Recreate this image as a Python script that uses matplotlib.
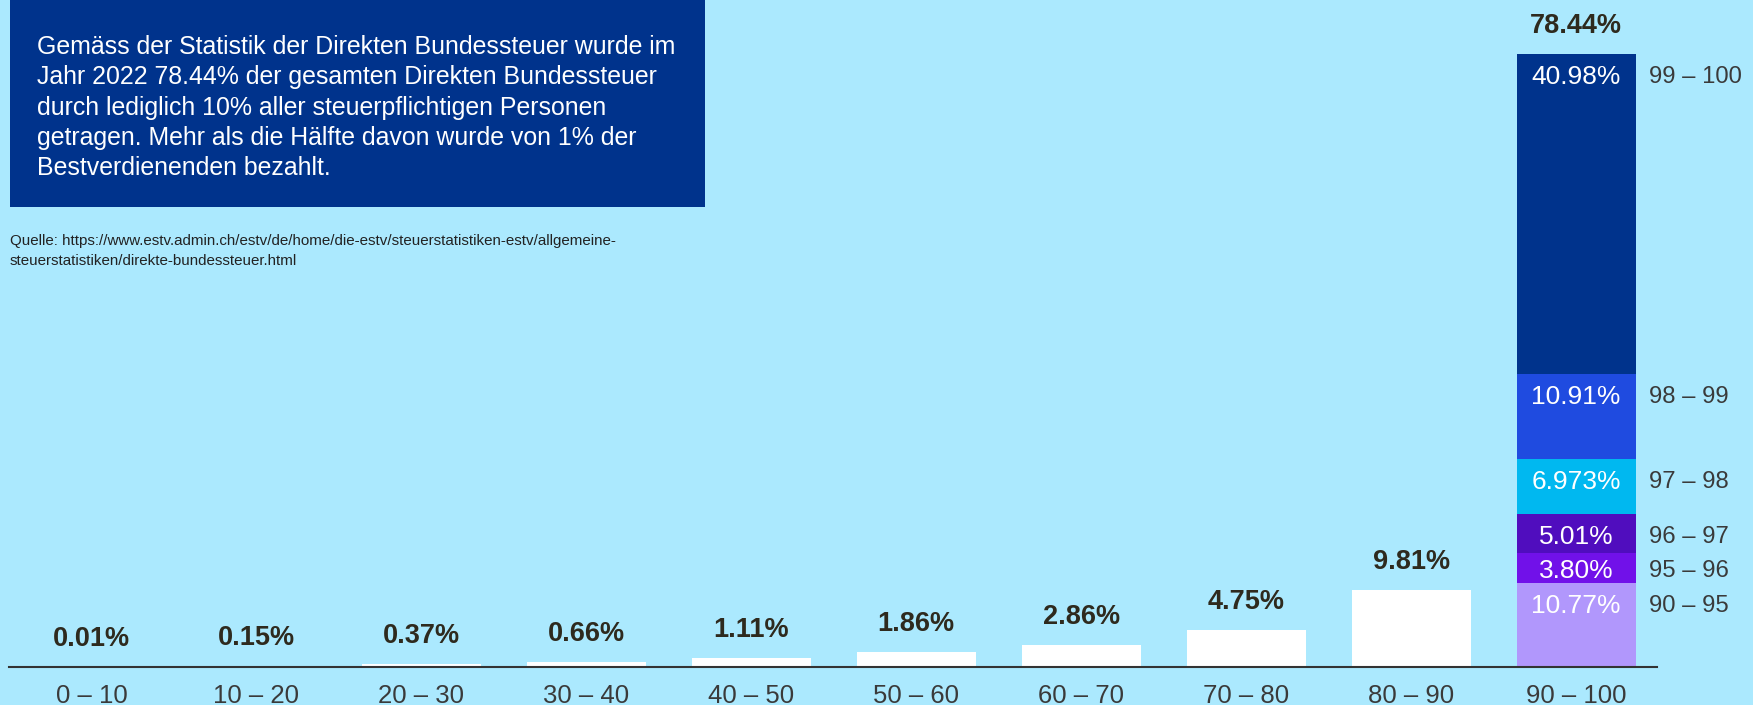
import matplotlib
matplotlib.use("Agg")
import matplotlib.pyplot as plt
from matplotlib.patches import Rectangle

# ---- data ----
categories = ["0 – 10", "10 – 20", "20 – 30", "30 – 40", "40 – 50",
              "50 – 60", "60 – 70", "70 – 80", "80 – 90", "90 – 100"]
shares = [0.01, 0.15, 0.37, 0.66, 1.11, 1.86, 2.86, 4.75, 9.81, 78.44]
share_labels = ["0.01%", "0.15%", "0.37%", "0.66%", "1.11%",
                "1.86%", "2.86%", "4.75%", "9.81%", "78.44%"]

top_groups = ["90 – 95", "95 – 96", "96 – 97", "97 – 98", "98 – 99", "99 – 100"]
top_values = [10.77, 3.80, 5.01, 6.973, 10.91, 40.98]
top_value_labels = ["10.77%", "3.80%", "5.01%", "6.973%", "10.91%", "40.98%"]
top_colors = ["#B197FC", "#7111E9", "#500DBE", "#00B8F0", "#1F4BE0", "#00338C"]

box_text = ("Gemäss der Statistik der Direkten Bundessteuer wurde im\n"
            "Jahr 2022 78.44% der gesamten Direkten Bundessteuer\n"
            "durch lediglich 10% aller steuerpflichtigen Personen\n"
            "getragen. Mehr als die Hälfte davon wurde von 1% der\n"
            "Bestverdienenden bezahlt.")
source_lines = ["Quelle: https://www.estv.admin.ch/estv/de/home/die-estv/steuerstatistiken-estv/allgemeine-",
                "steuerstatistiken/direkte-bundessteuer.html"]

BG = "#ABE9FE"
DARK = "#2E2A1E"
W, H = 1753, 705
DPI = 100
PT = 72 / DPI  # points per pixel

plt.rcParams['font.family'] = ['Liberation Sans', 'DejaVu Sans']

fig = plt.figure(figsize=(W / DPI, H / DPI), dpi=DPI, facecolor=BG)
ax = fig.add_axes([9 / W, (H - 667) / H, 1648 / W, 667 / H])
ax.set_facecolor(BG)

YMAX = 85.3
px_per_unit = 667 / YMAX

x = list(range(len(categories)))
bw = 0.72

# white bars for deciles 1-9
ax.bar(x[:-1], shares[:-1], width=bw, color="white", zorder=2)

# stacked top decile
bottom = 0.0
last = x[-1]
for val, lab, grp, col in zip(top_values, top_value_labels, top_groups, top_colors):
    ax.bar(last, val, bottom=bottom, width=bw, color=col, zorder=2)
    top = bottom + val
    off = min(23, 0.62 * val * px_per_unit)
    ax.annotate(lab, xy=(last, top), xytext=(0, -off * PT), textcoords="offset points",
                ha="center", va="center", fontsize=19, color="white", zorder=3)
    ax.annotate(grp, xy=(last + bw / 2, top), xytext=(13 * PT, -off * PT),
                textcoords="offset points", ha="left", va="center",
                fontsize=17.2, color="#3A3A3A", zorder=3, annotation_clip=False)
    bottom = top

# bold value labels
for xi, v, lab in zip(x, shares, share_labels):
    ax.annotate(lab, xy=(xi, v), xytext=(0, 28 * PT), textcoords="offset points",
                ha="center", va="center", fontsize=19.5, fontweight="bold", color=DARK)

ax.set_xlim(-0.5, 9.49)
ax.set_ylim(0, YMAX)
ax.set_xticks(x)
ax.set_xticklabels(categories, fontsize=18.5, color="#3A3A3A")
ax.tick_params(axis="x", length=0, pad=12)
ax.set_yticks([])
for s in ["top", "left", "right"]:
    ax.spines[s].set_visible(False)
ax.spines["bottom"].set_color("#333333")
ax.spines["bottom"].set_linewidth(1.5)

# text box
fig.patches.append(Rectangle((10 / W, 1 - 207 / H), 695 / W, 207 / H + 0.01,
                             transform=fig.transFigure, facecolor="#00338C",
                             edgecolor="none", zorder=5))
fig.text(37 / W, 1 - 35 / H, box_text, transform=fig.transFigure, ha="left", va="top",
         fontsize=17.9, color="white", linespacing=1.33, zorder=6)

for i, line in enumerate(source_lines):
    fig.text(10 / W, 1 - (241 + 20 * i) / H, line, transform=fig.transFigure, ha="left",
             va="center", fontsize=10.9, color="#222222")

fig.savefig("out.png", dpi=DPI, facecolor=BG)
